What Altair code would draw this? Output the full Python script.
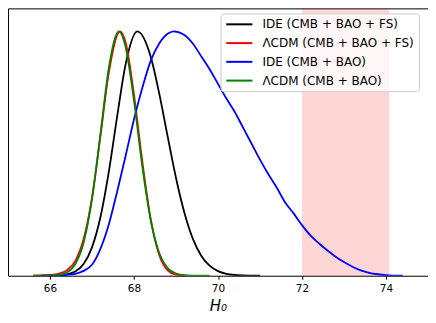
import altair as alt
import pandas as pd

# Series labels (legend order)
labels = ["IDE (CMB + BAO + FS)", "ΛCDM (CMB + BAO + FS)", "IDE (CMB + BAO)", "ΛCDM (CMB + BAO)"]
colors = ["#000000", "#ff0000", "#0000ff", "#008000"]

# IDE (CMB + BAO + FS)
h_ide_fs = [65.8, 66.0, 66.2, 66.4, 66.6, 66.8, 67.0, 67.2, 67.4, 67.6, 67.8, 68.08, 68.4, 68.6,
            68.8, 69.0, 69.2, 69.4, 69.6, 69.8, 70.0, 70.2, 70.4, 70.6, 70.8, 71.0]
p_ide_fs = [0, 0.0004, 0.0015, 0.0054, 0.017, 0.048, 0.116, 0.239, 0.425, 0.653, 0.865, 1.0, 0.895, 0.746,
            0.571, 0.40, 0.258, 0.152, 0.082, 0.041, 0.019, 0.008, 0.003, 0.001, 0.0003, 0]

# LCDM (CMB + BAO + FS)
h_lcdm_fs = [65.6, 65.8, 66.0, 66.2, 66.4, 66.6, 66.8, 67.0, 67.2, 67.4, 67.67, 67.8, 68.0, 68.2,
             68.4, 68.6, 68.8, 69.0, 69.2]
p_lcdm_fs = [0, 0.001, 0.003, 0.008, 0.022, 0.06, 0.15, 0.32, 0.57, 0.83, 1.0, 0.955, 0.74, 0.465,
             0.23, 0.085, 0.022, 0.004, 0]

# IDE (CMB + BAO)
h_ide = [65.8, 66.0, 66.2, 66.4, 66.6, 66.8, 67.0, 67.2, 67.4, 67.6, 67.8, 68.0, 68.2, 68.4, 68.6, 68.8,
         68.95, 69.2, 69.4, 69.6, 69.8, 70.0, 70.2, 70.4, 70.6, 70.8, 71.0, 71.2, 71.4, 71.6, 71.8,
         72.0, 72.2, 72.4, 72.6, 72.8, 73.0, 73.2, 73.4, 73.6, 73.8, 74.0, 74.2, 74.4]
p_ide = [0, 0.0003, 0.001, 0.003, 0.008, 0.02, 0.045, 0.11, 0.21, 0.345, 0.49, 0.64, 0.77, 0.88, 0.95, 0.99,
         1.0, 0.985, 0.95, 0.898, 0.845, 0.785, 0.725, 0.67, 0.605, 0.54, 0.475, 0.415, 0.36, 0.30, 0.255,
         0.207, 0.165, 0.133, 0.104, 0.078, 0.056, 0.037, 0.022, 0.012, 0.006, 0.002, 0.0005, 0]

# LCDM (CMB + BAO)
h_lcdm = [65.6, 65.8, 66.0, 66.2, 66.4, 66.6, 66.8, 67.0, 67.2, 67.4, 67.64, 67.8, 68.0, 68.2, 68.4,
          68.6, 68.8, 69.0, 69.2, 69.4, 69.6, 69.8]
p_lcdm = [0, 0.0001, 0.0005, 0.003, 0.013, 0.047, 0.135, 0.313, 0.578, 0.849, 1.0, 0.936, 0.716, 0.445, 0.225,
          0.093, 0.031, 0.009, 0.002, 0.0005, 0.0001, 0]

# SH0ES band
band_lo = [72.0]
band_hi = [74.08]

xs = [h_ide_fs, h_lcdm_fs, h_ide, h_lcdm]
ys = [p_ide_fs, p_lcdm_fs, p_ide, p_lcdm]
rows = []
for lab, hx, py in zip(labels, xs, ys):
    for a, b in zip(hx, py):
        rows.append({"H0": a, "P": b, "model": lab})
df = pd.DataFrame(rows)
band_df = pd.DataFrame({"lo": band_lo, "hi": band_hi})

xscale = alt.Scale(domain=[65, 75], nice=False, zero=False)
yscale = alt.Scale(domain=[0, 1.094], nice=False, zero=False)

band = alt.Chart(band_df).mark_rect(color="#ff0000", opacity=0.16).encode(
    x=alt.X("lo:Q", scale=xscale),
    x2="hi:Q",
)

lines = alt.Chart(df).mark_line(strokeWidth=1.8, interpolate="monotone", clip=True).encode(
    x=alt.X("H0:Q", scale=xscale,
            axis=alt.Axis(title="H₀", values=[66, 68, 70, 72, 74], format="d", grid=False,
                          domain=False, tickColor="black", tickSize=3.5, labelColor="black",
                          labelFontSize=10.5, labelPadding=4, titleFontSize=15,
                          titleFontStyle="italic", titleFontWeight="normal", titleColor="black",
                          titlePadding=5)),
    y=alt.Y("P:Q", scale=yscale, axis=None),
    color=alt.Color("model:N", scale=alt.Scale(domain=labels, range=colors),
                    legend=alt.Legend(title=None, orient="none", legendX=213, legendY=5,
                                      symbolType="M-1,0H4", symbolSize=110, symbolStrokeWidth=2,
                                      labelFontSize=12, labelColor="black", labelOffset=24.5,
                                      rowPadding=5.8, padding=4.5,
                                      fillColor="rgba(255,255,255,0.8)",
                                      strokeColor="#cccccc", cornerRadius=3, labelLimit=300)),
    detail="model:N",
)

chart = alt.layer(band, lines).properties(
    width=421, height=268,
    padding={"left": 0, "top": 0, "right": 0, "bottom": 0},
).configure(font="DejaVu Sans").configure_view(stroke="black", strokeWidth=1)

chart.save("out.html", embed_options={"renderer": "svg", "actions": False})
